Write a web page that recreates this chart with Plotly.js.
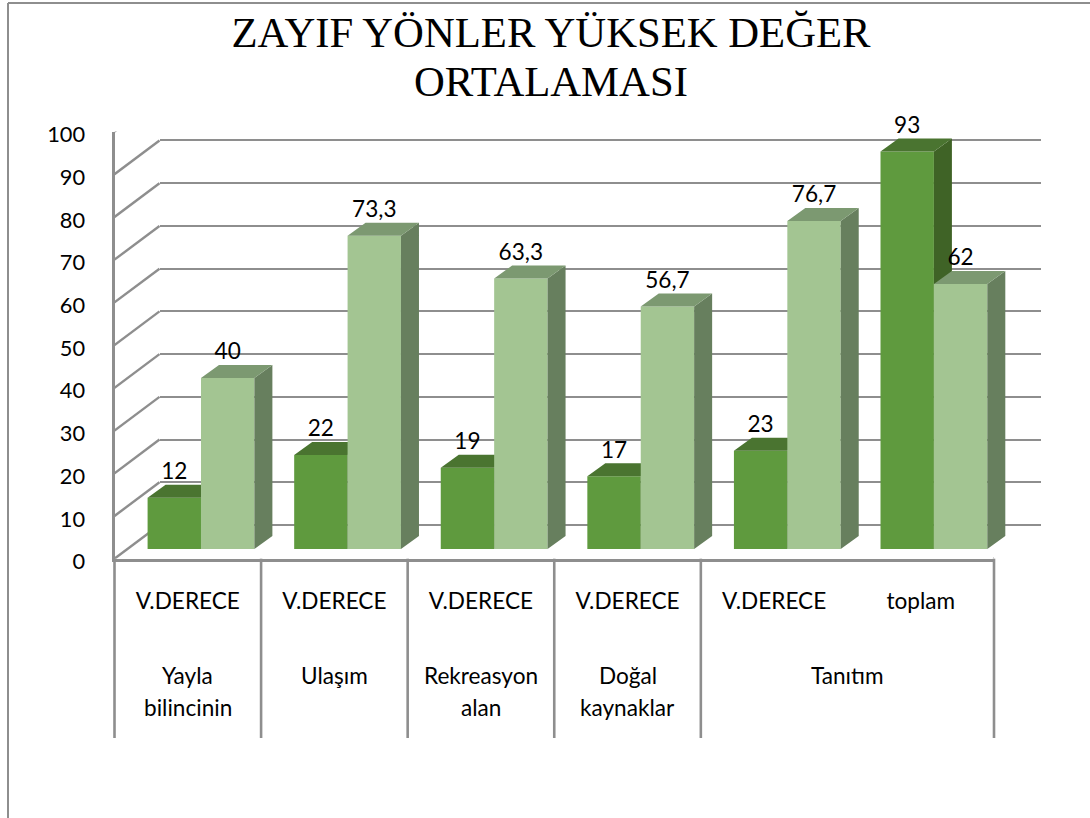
<!DOCTYPE html>
<html><head><meta charset="utf-8">
<script src="https://cdn.plot.ly/plotly-3.0.1.min.js"></script>
<style>html,body{margin:0;padding:0;background:#fff}#c{width:1090px;height:818px}</style>
</head><body><div id="c"></div>
<script>
const categories = ["V.DERECE","V.DERECE","V.DERECE","V.DERECE","V.DERECE","toplam"];
const darkValues = [12,22,19,17,23,93];
const lightValues = [40,73.3,63.3,56.7,76.7,62];
const yTicks = [0,10,20,30,40,50,60,70,80,90,100];
const groupLabels = [
  {at:0, lines:["Yayla","bilincinin"]},
  {at:1, lines:["Ulaşım"]},
  {at:2, lines:["Rekreasyon","alan"]},
  {at:3, lines:["Doğal","kaynaklar"]},
  {at:4.5, lines:["Tanıtım"]}
];
const groupEdges = [-0.5,0.5,1.5,2.5,3.5,5.5];
const titleLine1 = "ZAYIF YÖNLER YÜKSEK DEĞER";
const titleLine2 = "ORTALAMASI";

const W=1090,H=818;
const GREY="#8e8e8e", FONT="Lato, Carlito, sans-serif", FS=22.6, TITLE_FONT="Liberation Serif, serif", TS=42.7;
const C={dF:"#5f9a3e",dT:"#4a7430",dS:"#3f6326",lF:"#a3c592",lT:"#7c9971",lS:"#677f5e"};
const px=(a,b)=>[a/W,b/W], py=(top,bot)=>[1-bot/H,1-top/H];
const front={x:px(114.5,994),y:py(131.5,558.7)};
const wall={x:px(159.5,1040.7),y:py(97.5,525)};
const bars={x:px(127.7,1007.2),y:py(121.5,549)};
const catRange=[-0.5,5.5];
const pxPerCat=(994-114.5)/6, pxPerUnit=(558.7-131.5)/100;
const barW=53.4/pxPerCat, dX=18/pxPerCat, dY=13/pxPerUnit;
const wallDX=45/pxPerCat, wallDY=33.7/pxPerUnit;
const idx=categories.map((_,i)=>i);
function faces(vals,off){
  const top={x:[],y:[]},side={x:[],y:[]};
  vals.forEach((v,i)=>{
    const l=i+off,r=l+barW;
    top.x.push(l,r,r+dX,l+dX,l,null); top.y.push(v,v,v+dY,v+dY,v,null);
    side.x.push(r,r+dX,r+dX,r,r,null); side.y.push(0,dY,v+dY,v,0,null);
  });
  return {top,side};
}
function poly(f,color,xa,ya){return {type:"scatter",mode:"lines",x:f.x,y:f.y,fill:"toself",fillcolor:color,line:{width:0,color:color},xaxis:xa,yaxis:ya,hoverinfo:"skip",cliponaxis:false,showlegend:false};}
function bar(vals,off,color,xa,ya,name){return {type:"bar",name:name,x:idx,y:vals,offset:off,width:barW,marker:{color:color,line:{width:0}},xaxis:xa,yaxis:ya,cliponaxis:false,showlegend:false};}
const dk=faces(darkValues,-barW), lt=faces(lightValues,0);

// wall diagonals and floor, computed from the tick values
const diag={x:[],y:[]};
yTicks.forEach(t=>{diag.x.push(catRange[0],catRange[0]+wallDX,null);diag.y.push(t,t+wallDY,null);});
diag.x.push(catRange[1],catRange[1]+wallDX,null);diag.y.push(0,wallDY,null);

function labels(vals,cx,xa,ya){return {type:"scatter",mode:"text",x:idx.map(i=>i+cx),y:vals.map(v=>v+dY),
  text:vals.map(v=>String(v).replace(".",",")),textposition:"top center",textfont:{family:FONT,size:FS,color:"#000"},
  xaxis:xa,yaxis:ya,cliponaxis:false,hoverinfo:"skip",showlegend:false};}

const traces=[
  {type:"scatter",mode:"lines",x:[0],y:[0],xaxis:"x",yaxis:"y",hoverinfo:"skip",showlegend:false,line:{width:0}},
  {type:"scatter",mode:"lines",x:diag.x,y:diag.y,xaxis:"x2",yaxis:"y2",cliponaxis:false,line:{color:GREY,width:2.4},hoverinfo:"skip",showlegend:false},
  bar(darkValues,-barW,C.dF,"x3","y3","V.DERECE koyu"),
  poly(dk.side,C.dS,"x3","y3"),poly(dk.top,C.dT,"x3","y3"),
  bar(lightValues,0,C.lF,"x4","y4","açık"),
  poly(lt.side,C.lS,"x4","y4"),poly(lt.top,C.lT,"x4","y4"),
  labels(darkValues,-barW/2,"x4","y4"),
  labels(lightValues,barW/2,"x4","y4")
];

const hidden=(dom,range,extra)=>Object.assign({domain:dom,range:range,showgrid:false,zeroline:false,showline:false,showticklabels:false,ticks:"",fixedrange:true},extra||{});
const annotations=[];
groupLabels.forEach(g=>g.lines.forEach((t,i)=>annotations.push({text:t,xref:"x2",yref:"paper",x:g.at,y:1-(675+32*i)/H,xanchor:"center",yanchor:"middle",showarrow:false,font:{family:FONT,size:FS,color:"#000"}})));
annotations.push({text:titleLine2,xref:"paper",yref:"paper",x:551/W,y:1-81/H,xanchor:"center",yanchor:"middle",showarrow:false,font:{family:TITLE_FONT,size:TS,color:"#000"}});
// separators use paper x so the outer ones are not clipped at the plot edge
const edgeToPaper=e=>front.x[0]+(e-catRange[0])/(catRange[1]-catRange[0])*(front.x[1]-front.x[0]);
const shapes=groupEdges.map(e=>({type:"line",xref:"paper",yref:"paper",x0:edgeToPaper(e),x1:edgeToPaper(e),y0:1-558.7/H,y1:1-738/H,line:{color:GREY,width:2.6}}));
shapes.push({type:"line",xref:"paper",yref:"paper",x0:8/W,x1:8/W,y0:0,y1:1-3/H,line:{color:GREY,width:2}});
shapes.push({type:"line",xref:"paper",yref:"paper",x0:8/W,x1:1,y0:1-3/H,y1:1-3/H,line:{color:GREY,width:2}});

const layout={
  width:W,height:H,margin:{l:0,r:0,t:0,b:0},paper_bgcolor:"#fff",plot_bgcolor:"rgba(0,0,0,0)",showlegend:false,barmode:"overlay",
  font:{family:FONT,size:FS,color:"#000"},
  title:{text:titleLine1,font:{family:TITLE_FONT,size:TS,color:"#000"},x:551/W,xanchor:"center",y:1-32/H,yanchor:"middle"},
  xaxis:hidden(wall.x,catRange,{anchor:"y"}),
  yaxis:{domain:wall.y,range:[0,100],anchor:"x",tickvals:yTicks,showticklabels:false,ticks:"",showgrid:true,gridcolor:GREY,gridwidth:2,zeroline:true,zerolinecolor:GREY,zerolinewidth:2,showline:false,fixedrange:true},
  xaxis2:{domain:front.x,range:catRange,anchor:"y2",tickvals:idx,ticktext:categories,ticks:"",ticklabelstandoff:20,showgrid:false,zeroline:false,showline:true,linecolor:GREY,linewidth:3,tickfont:{family:FONT,size:FS,color:"#000"},fixedrange:true},
  yaxis2:{domain:front.y,range:[0,100],anchor:"x2",tickvals:yTicks,ticks:"outside",ticklen:22,tickwidth:1,tickcolor:"rgba(0,0,0,0)",ticklabelshift:3,showgrid:false,zeroline:false,showline:true,linecolor:GREY,linewidth:3,tickfont:{family:FONT,size:21.8,color:"#000"},fixedrange:true},
  xaxis3:hidden(bars.x,catRange,{anchor:"y3"}),
  yaxis3:hidden(bars.y,[0,100],{anchor:"x3"}),
  xaxis4:hidden(bars.x,catRange,{anchor:"y4",overlaying:"x3"}),
  yaxis4:hidden(bars.y,[0,100],{anchor:"x4",overlaying:"y3"}),
  annotations:annotations,shapes:shapes
};
Plotly.newPlot("c",traces,layout,{displayModeBar:false,staticPlot:true});
</script></body></html>
